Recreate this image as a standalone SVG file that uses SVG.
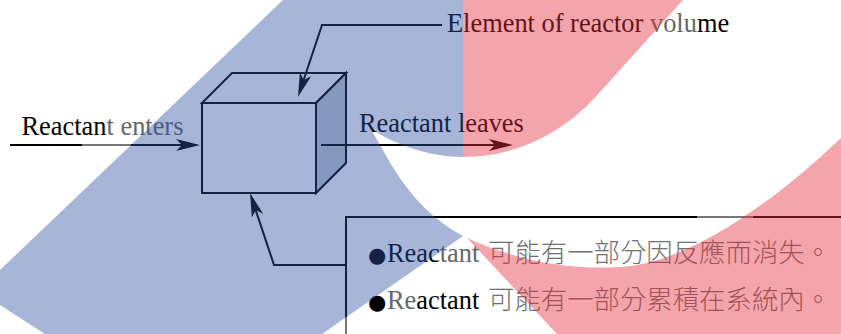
<svg xmlns="http://www.w3.org/2000/svg" width="841" height="334" viewBox="0 0 841 334">
  <defs>
    <style>
      .ln{fill:none;stroke:#000;stroke-width:2;stroke-linejoin:miter}
      .fade{fill:none;stroke:#777;stroke-width:2}
      .lbl{font-size:26.4px;fill:#000}
      .dim{fill:#666}
      .dot{font-family:"DejaVu Sans",sans-serif;font-size:21px}
      .cjk{font-family:"Noto Sans CJK TC","Noto Sans CJK SC",sans-serif;fill:#707070;font-weight:300}
      .tint-blue{fill:#2e51a3;fill-opacity:0.425}
      .tint-red{fill:#e52e3c;fill-opacity:0.43}
    </style>
    <marker id="arrow" viewBox="0 0 24 12" refX="18" refY="6" markerWidth="24" markerHeight="12" markerUnits="userSpaceOnUse" orient="auto">
      <path d="M0,0 L24,6 L0,12 L6,6 Z" fill="#000"/>
    </marker>
  </defs>

  <rect width="841" height="334" fill="#fff"/>

  <!-- volume element drawn as a box -->
  <g id="reactor-element">
    <path class="ln" d="M232,73 L346,73 L316,103 L202,103 Z" style="fill:#fff"/>
    <path class="ln" d="M316,103 L346,73 L346,163 L316,193 Z" style="fill:#c6cdd2"/>
    <rect class="ln" x="202" y="103" width="114" height="90" style="fill:#fff"/>
  </g>

  <g id="label-element">
    <text class="lbl" font-family="'Liberation Serif', 'Times New Roman', serif" x="447" y="32">Element of reactor <tspan class="dim">volu</tspan>me</text>
  </g>

  <g id="label-enters">
    <text class="lbl" font-family="'Liberation Serif', 'Times New Roman', serif" x="21.5" y="135">Reactan<tspan class="dim">t enters</tspan></text>
  </g>

  <g id="label-leaves">
    <text class="lbl" font-family="'Liberation Serif', 'Times New Roman', serif" x="359" y="132">Reactant leaves</text>
  </g>

  <g id="note">
    <path class="ln" d="M346,334 L346,217 L841,217"/>
    <path class="fade" d="M346,317 L346,334 M697,217 L753,217"/>
    <text class="lbl" font-family="'Liberation Serif', 'Times New Roman', serif" y="262"><tspan class="dot" x="368">●</tspan><tspan x="387">Reac</tspan><tspan class="dim">tant </tspan><tspan class="cjk" x="488">可能有一部分因反應而消失。</tspan></text>
    <text class="lbl" font-family="'Liberation Serif', 'Times New Roman', serif" y="309"><tspan class="dot" x="368">●</tspan><tspan x="387" class="dim">Re</tspan>actant <tspan class="cjk" x="488">可能有一部分累積在系統內。</tspan></text>
  </g>

  <g id="connectors">
    <path class="ln" d="M10,145 L194,145" marker-end="url(#arrow)"/>
    <path class="fade" d="M82,145 L131,145"/>
    <path class="ln" d="M321,145 L507,145" marker-end="url(#arrow)"/>
    <path class="ln" d="M442,25 L322,25 L299.9,91.3" marker-end="url(#arrow)"/>
    <path class="ln" d="M346,265 L274,265 L251.9,198.7" marker-end="url(#arrow)"/>
  </g>

  <!-- translucent colour bands laid over everything -->
  <g id="bands" pointer-events="none">
    <path class="tint-blue" d="M283,0 L463,0 L463,157 C430,157 395,145 370,128 C385,150 405,205 463,236 L322,334 L45,334 L0,305 L0,270 Z"/>
    <path class="tint-red" d="M463,0 L683,0 L600,92 C560,138 510,157 463,157 Z"/>
    <path class="tint-red" d="M467,238 C520,262 570,270 620,267 C680,264 760,215 841,138 L841,334 L557,334 Z"/>
  </g>
</svg>
